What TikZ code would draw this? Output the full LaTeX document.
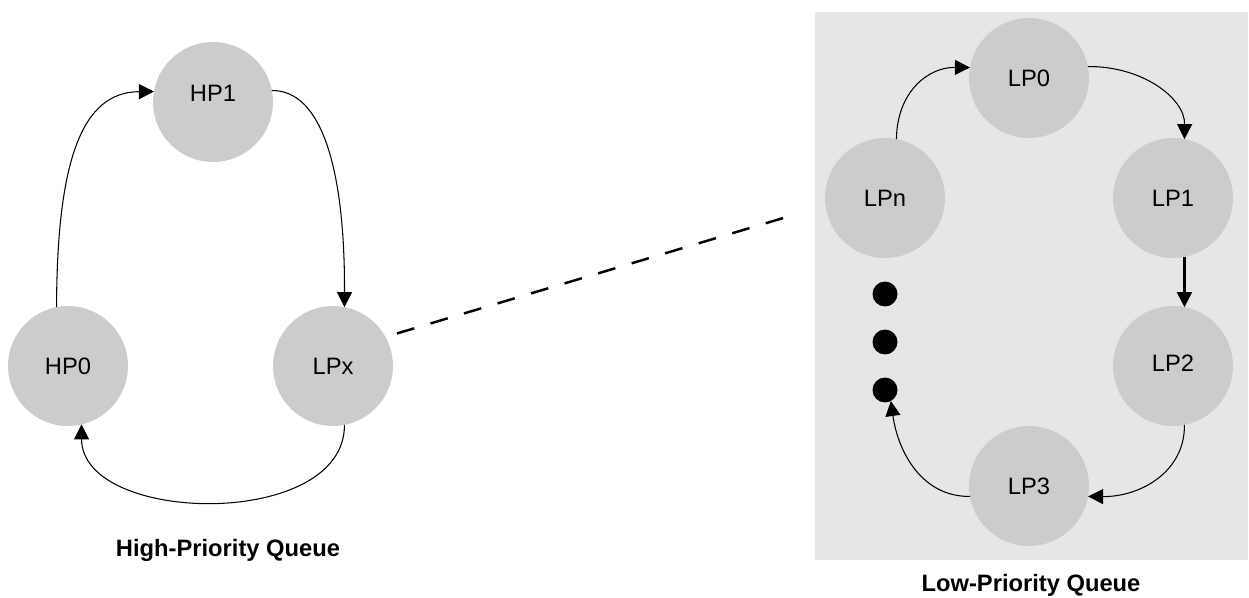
\documentclass[tikz,border=0pt]{standalone}
\usepackage{fontspec}
\setmainfont{Liberation Sans}
\usetikzlibrary{arrows.meta}
\definecolor{panel}{HTML}{E6E6E6}
\definecolor{disc}{HTML}{CCCCCC}
\tikzset{
  queue/.style={circle, fill=disc, draw=none, minimum size=2.4cm, inner sep=0pt, outer sep=0pt,
                font=\fontsize{13.5}{16}\selectfont},
  more/.style={circle, fill=black, minimum size=0.5cm, inner sep=0pt, outer sep=0pt},
  flow/.style={line width=0.6pt, -{Triangle[length=0.3cm, width=0.3cm]}},
  heavyflow/.style={line width=1.2pt, -{Triangle[length=0.3cm, width=0.3cm]}},
  link/.style={line width=1.4pt, dash pattern=on 0.36cm off 0.34cm},
  caption/.style={font=\bfseries\fontsize{13.5}{16}\selectfont}
}
\begin{document}
\begin{tikzpicture}[x=0.02cm, y=-0.02cm]
  \useasboundingbox (0,0) rectangle (1249,598);
  % low-priority panel
  \fill[panel] (815,12) rectangle (1248,560);

  % high-priority ring
  \node[queue] (HP1) at (213,102) {\raisebox{10pt}{HP1}};
  \node[queue] (HP0) at (68,366) {HP0};
  \node[queue] (LPx) at (333,366) {LPx};

  \draw[flow] (HP0.101) .. controls (57,160) and (82,92) .. (HP1.170);
  \draw[flow] (HP1.11) .. controls (322,90) and (345,170) .. (LPx.79);
  \draw[flow] (LPx.281) .. controls (345,530) and (82,525) .. (HP0.283);

  \node[caption] (hpq) at (228,550) {High-Priority Queue};

  % low-priority ring
  \node[queue] (LP0) at (1029,78) {LP0};
  \node[queue] (LP1) at (1173,198) {LP1};
  \node[queue] (LP2) at (1173,366) {\raisebox{3pt}{LP2}};
  \node[queue] (LP3) at (1029,486) {LP3};
  \node[queue] (LPn) at (885,198) {LPn};
  \node[more] (d1) at (885,294) {};
  \node[more] (d2) at (885,342) {};
  \node[more] (d3) at (885,390) {};

  \draw[flow] (LPn.79) .. controls (897,92) and (928,67) .. (LP0.170);
  \draw[flow] (LP0.11) .. controls (1142,66) and (1185,98) .. (LP1.79);
  \draw[heavyflow] (LP1.281) -- (LP2.79);
  \draw[flow] (LP2.281) .. controls (1185,472) and (1140,497) .. (LP3.350);
  \draw[flow] (LP3.190) .. controls (922,497) and (898,452) .. (d3.-62);

  \node[caption] (lpq) at (1031,585) {Low-Priority Queue};

  % link from the LPx slot to the low-priority queue
  \coordinate (far) at (790,216);
  \draw[link, shorten <=0.24cm] (LPx.29) -- (far);
\end{tikzpicture}
\end{document}
